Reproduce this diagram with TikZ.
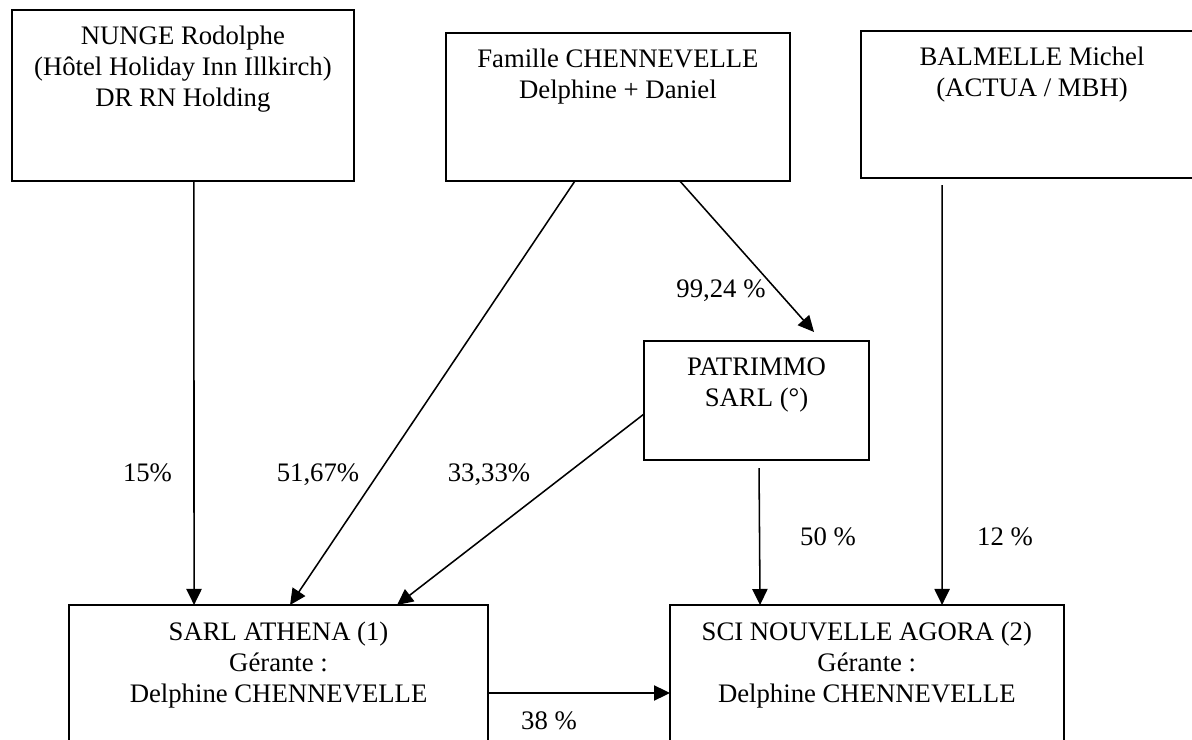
\documentclass[tikz,border=0pt]{standalone}
\usepackage{fontspec}
\setmainfont{Liberation Serif}
\usetikzlibrary{arrows.meta,calc}

\begin{document}
\begin{tikzpicture}[x=0.025cm,y=-0.025cm,font=\fontsize{19}{22.05}\selectfont,
	box/.style={draw,line width=1.5pt,inner sep=0,outer sep=0,anchor=north west},
	txt/.style={align=center,inner sep=0,anchor=base},
	pct/.style={inner sep=0,anchor=base},
	arr/.style={line width=1.1pt,-{Triangle[length=4mm,width=3.8mm]}}]
	\useasboundingbox (0,0) rectangle (1192,740);
	\clip (0,0) rectangle (1192,740);
	% shareholders
	\node[box,minimum width=8.558cm,minimum height=4.268cm] (nunge) at (11.7,10) {};
	\node[box,minimum width=8.608cm,minimum height=3.7cm] (famille) at (445.7,33) {};
	\node[box,minimum width=8.55cm,minimum height=3.675cm] (balmelle) at (861,31) {};
	\node[box,minimum width=5.625cm,minimum height=2.975cm] (patrimmo) at (644,341) {};
	% companies
	\node[box,minimum width=10.475cm,minimum height=4.5cm] (athena) at (69,605) {};
	\node[box,minimum width=9.838cm,minimum height=4.5cm] (sci) at (670,605) {};
	% texts (base = last line)
	\node[txt] (nungetxt) at ($(nunge.north)+(0,97)$) {NUNGE Rodolphe\\(Hôtel Holiday Inn Illkirch)\\DR RN Holding};
	\node[txt] (familletxt) at ($(famille.north)+(0,66)$) {Famille CHENNEVELLE\\Delphine + Daniel};
	\node[txt] (balmelletxt) at ($(balmelle.north)+(0,66)$) {BALMELLE Michel\\(ACTUA / MBH)};
	\node[txt] (patrimmotxt) at ($(patrimmo.north)+(0,66)$) {PATRIMMO\\SARL (°)};
	\node[txt] (athenatxt) at ($(athena.north)+(0,98)$) {SARL ATHENA (1)\\Gérante :\\Delphine CHENNEVELLE};
	\node[txt] (scitxt) at ($(sci.north)+(0,98)$) {SCI NOUVELLE AGORA (2)\\Gérante :\\Delphine CHENNEVELLE};
	% holdings
	\draw[arr] ($(nunge.south)+(11,0)$) -- ($(athena.north)+(-84.5,0)$);
	\draw[arr] ($(famille.south)+(-43,0)$) -- ($(athena.north)+(11.5,0)$);
	\draw[arr] ($(famille.south)+(62,0)$) -- ($(patrimmo.north)+(57.5,-9)$);
	\draw[arr] ($(patrimmo.west)+(0,13.5)$) -- ($(athena.north)+(118.5,0)$);
	\draw[arr] ($(patrimmo.south)+(2.5,8)$) -- ($(sci.north)+(-106.75,0)$);
	\draw[arr] ($(balmelle.south)+(-90,7)$) -- ($(sci.north)+(75.25,0)$);
	\draw[arr] ($(athena.north east)+(0,88)$) -- ($(sci.north west)+(0,88)$);
	\node[pct] (p15) at (147.5,482) {15\%};
	\node[pct] (p5167) at (318,482) {51,67\%};
	\node[pct] (p3333) at (489,482) {33,33\%};
	\node[pct] (p9924) at (721,298) {99,24 \%};
	\node[pct] (p50) at (828,546) {50 \%};
	\node[pct] (p12) at (1005,546) {12 \%};
	\node[pct] (p38) at (549,729.6) {38 \%};
\end{tikzpicture}
\end{document}
